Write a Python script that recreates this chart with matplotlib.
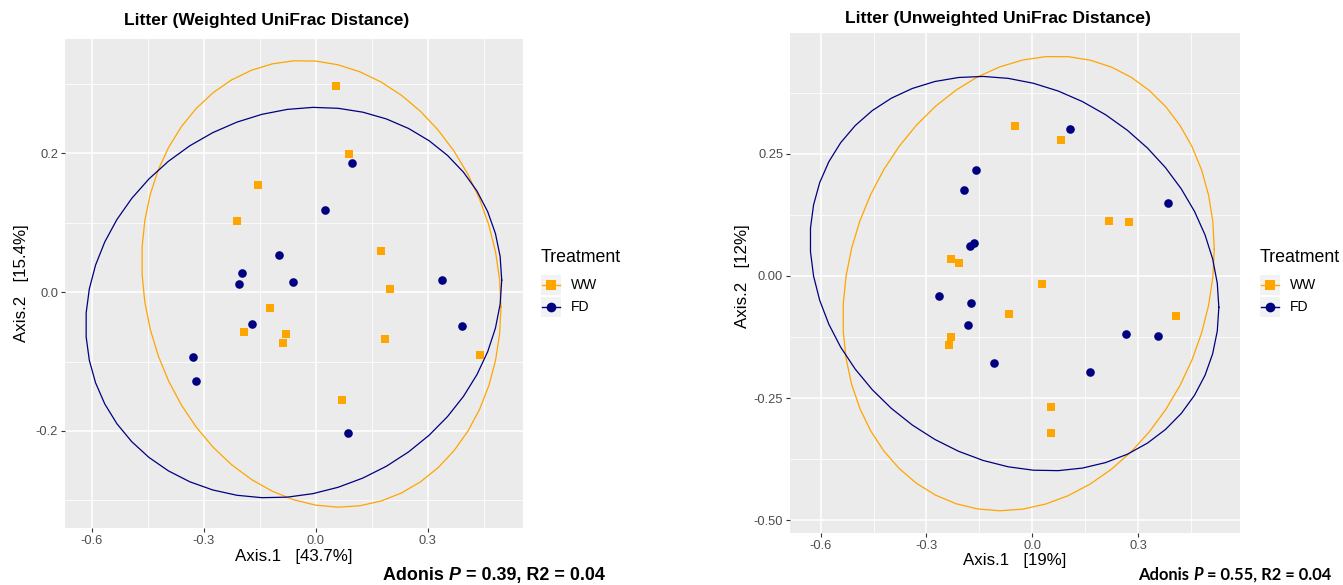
import numpy as np
import matplotlib
matplotlib.use('Agg')
import matplotlib.pyplot as plt
from matplotlib.lines import Line2D
from matplotlib.patches import Rectangle

plt.rcParams['font.family'] = ['Liberation Sans', 'DejaVu Sans']

W, H = 1343, 585

# Weighted UniFrac PCoA scores
wu_ww_x = [0.055, 0.090, -0.154, -0.210, 0.175, 0.199, -0.122, -0.191, -0.081, -0.089, 0.186, 0.441, 0.071]
wu_ww_y = [0.297, 0.199, 0.155, 0.103, 0.060, 0.004, -0.023, -0.057, -0.060, -0.073, -0.068, -0.091, -0.156]
wu_fd_x = [0.098, 0.024, -0.099, -0.197, -0.205, -0.061, 0.339, -0.171, 0.392, -0.328, -0.322, 0.087]
wu_fd_y = [0.186, 0.118, 0.054, 0.027, 0.012, 0.015, 0.018, -0.046, -0.049, -0.094, -0.128, -0.203]

# Unweighted UniFrac PCoA scores
uu_ww_x = [-0.048, 0.082, 0.218, 0.273, -0.230, -0.207, 0.028, -0.065, 0.408, -0.230, -0.235, 0.054, 0.054]
uu_ww_y = [0.307, 0.278, 0.112, 0.110, 0.034, 0.026, -0.017, -0.078, -0.081, -0.124, -0.141, -0.269, -0.322]
uu_fd_x = [0.107, -0.159, -0.195, 0.385, -0.166, -0.177, -0.265, -0.175, -0.183, -0.109, 0.164, 0.266, 0.357]
uu_fd_y = [0.301, 0.217, 0.176, 0.149, 0.067, 0.062, -0.041, -0.055, -0.100, -0.178, -0.196, -0.118, -0.122]

# 95% ellipses: centre, half extents along x / y, cross term
wu_ww_ell = dict(center=(0.015, 0.012), half=(0.481, 0.322), cov=-0.016)
wu_fd_ell = dict(center=(-0.059, -0.015), half=(0.557, 0.2815), cov=0.018)
uu_ww_ell = dict(center=(-0.0105, -0.0155), half=(0.5265, 0.465), cov=0.037)
uu_fd_ell = dict(center=(-0.0505, 0.0047), half=(0.5795, 0.4035), cov=-0.040)

treatments = ['WW', 'FD']
colors = {'WW': '#FFA500', 'FD': '#000080'}
markers = {'WW': 's', 'FD': 'o'}


def ellipse_path(ell, n=52):
    sx, sy = ell['half']
    sigma = np.array([[sx ** 2, ell['cov']], [ell['cov'], sy ** 2]])
    L = np.linalg.cholesky(sigma)
    t = np.linspace(0, 2 * np.pi, n)
    pts = L @ np.vstack([np.cos(t), np.sin(t)])
    return pts[0] + ell['center'][0], pts[1] + ell['center'][1]


def px_axes(fig, x0, y0, x1, y1):
    return fig.add_axes([x0 / W, 1 - y1 / H, (x1 - x0) / W, (y1 - y0) / H])


def draw_panel(ax, data, ells, xlim, ylim, xticks, yticks, yfmt, minor_x, minor_y):
    ax.set_facecolor('#EBEBEB')
    for s in ax.spines.values():
        s.set_visible(False)
    for v in minor_x:
        ax.axvline(v, color='white', lw=0.55, zorder=0)
    for v in minor_y:
        ax.axhline(v, color='white', lw=0.55, zorder=0)
    for v in xticks:
        ax.axvline(v, color='white', lw=1.1, zorder=0)
    for v in yticks:
        ax.axhline(v, color='white', lw=1.1, zorder=0)
    for tr in treatments:
        ex, ey = ellipse_path(ells[tr])
        ax.plot(ex, ey, color=colors[tr], lw=0.9, zorder=2)
    for tr in treatments:
        x, y = data[tr]
        ms = 6.4 if tr == 'WW' else 6.2
        ax.plot(x, y, ls='none', marker=markers[tr], ms=ms, color=colors[tr],
                markeredgewidth=0, zorder=3)
    ax.set_xlim(*xlim)
    ax.set_ylim(*ylim)
    ax.set_xticks(xticks)
    ax.set_xticklabels(['%.1f' % v for v in xticks])
    ax.set_yticks(yticks)
    ax.set_yticklabels([yfmt % v for v in yticks])
    ax.tick_params(axis='both', length=2.7, width=0.8, color='#333333',
                   labelcolor='#4D4D4D', labelsize=9.3, pad=2.2)


def draw_legend(fig, x, y):
    fig.text(x / W, 1 - y / H, 'Treatment', fontsize=12.8, va='center', ha='left', color='black')
    for i, tr in enumerate(treatments):
        ky = y + 28 + i * 22
        fig.add_artist(Rectangle((x / W, 1 - (ky + 10) / H), 20 / W, 20 / H,
                                 transform=fig.transFigure, facecolor='#F2F2F2', edgecolor='none'))
        fig.add_artist(Line2D([(x + 1) / W, (x + 19) / W], [1 - ky / H, 1 - ky / H],
                              transform=fig.transFigure, color=colors[tr], lw=1.0))
        fig.add_artist(Line2D([(x + 10) / W], [1 - ky / H], transform=fig.transFigure,
                              marker=markers[tr], ms=7, color=colors[tr], markeredgewidth=0, ls='none'))
        fig.text((x + 30) / W, 1 - ky / H, tr, fontsize=10, va='center', ha='left', color='black')


def adonis(fig, x, y, pval, r2, family, size):
    t1 = fig.text(x / W, 1 - y / H, 'Adonis ', fontsize=size, fontweight='bold',
                  va='baseline', ha='left', family=family)
    t2 = fig.text(0, 0, 'P', fontsize=size, fontweight='bold', style='italic', family=family)
    t3 = fig.text(0, 0, ' = %s, R2 = %s' % (pval, r2), fontsize=size, fontweight='bold', family=family)
    fig.canvas.draw()
    r = fig.canvas.get_renderer()
    b1 = t1.get_window_extent(r)
    t2.set_position((b1.x1 / fig.bbox.width, 1 - y / H))
    t2.set_va('baseline')
    b2 = t2.get_window_extent(r)
    t3.set_position((b2.x1 / fig.bbox.width, 1 - y / H))
    t3.set_va('baseline')


fig = plt.figure(figsize=(W / 100, H / 100), dpi=100)

# Left: weighted UniFrac
ax1 = px_axes(fig, 65, 39, 523, 528)
draw_panel(ax1, {'WW': (wu_ww_x, wu_ww_y), 'FD': (wu_fd_x, wu_fd_y)},
           {'WW': wu_ww_ell, 'FD': wu_fd_ell},
           (-0.6716, 0.555), (-0.340, 0.365),
           [-0.6, -0.3, 0.0, 0.3], [-0.2, 0.0, 0.2], '%.1f',
           [-0.45, -0.15, 0.15, 0.45], [-0.3, -0.1, 0.1, 0.3])
fig.text(124 / W, 1 - 21 / H, 'Litter (Weighted UniFrac Distance)', fontsize=12.5,
         fontweight='bold', va='center', ha='left')
fig.text(22 / W, 1 - 283 / H, 'Axis.2   [15.4%]', rotation=90, fontsize=12.2,
         va='center', ha='center')
fig.text(294 / W, 1 - 557 / H, 'Axis.1   [43.7%]', fontsize=12.2, va='center', ha='center')
draw_legend(fig, 541, 257)

# Right: unweighted UniFrac
ax2 = px_axes(fig, 790, 33, 1240, 533)
draw_panel(ax2, {'WW': (uu_ww_x, uu_ww_y), 'FD': (uu_fd_x, uu_fd_y)},
           {'WW': uu_ww_ell, 'FD': uu_fd_ell},
           (-0.687, 0.589), (-0.526, 0.497),
           [-0.6, -0.3, 0.0, 0.3], [-0.5, -0.25, 0.0, 0.25], '%.2f',
           [-0.45, -0.15, 0.15, 0.45], [-0.375, -0.125, 0.125, 0.375])
fig.text(998 / W, 1 - 18 / H, 'Litter (Unweighted UniFrac Distance)', fontsize=12.5,
         fontweight='bold', va='center', ha='center')
fig.text(742 / W, 1 - 276 / H, 'Axis.2   [12%]', rotation=90, fontsize=12.2,
         va='center', ha='center')
fig.text(1015 / W, 1 - 561 / H, 'Axis.1   [19%]', fontsize=12.2, va='center', ha='center')
draw_legend(fig, 1260, 257)

adonis(fig, 383, 580, '0.39', '0.04', ['Liberation Sans', 'DejaVu Sans'], 12.9)
adonis(fig, 1138, 580, '0.55', '0.04', ['Lato', 'DejaVu Sans'], 11.9)

fig.savefig('out.png', dpi=100)
